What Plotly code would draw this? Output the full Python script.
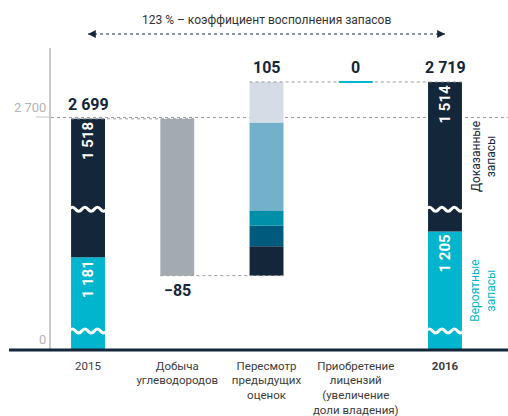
import plotly.graph_objects as go

# ---------------- data ----------------
CATEGORIES = ["2015", "Добыча<br>углеводородов", "Пересмотр<br>предыдущих<br>оценок",
              "Приобретение<br>лицензий<br>(увеличение<br>доли владения)", "<b>2016</b>"]

START_TOTAL = 2699
PRODUCTION = -85
REVISION_TOTAL = 105
ACQUISITION = 0
END_TOTAL = 2719
TOTAL_LABELS = ["2 699", "−85", "105", "0", "2 719"]

PROBABLE = [1181, 1205]
PROVED = [1518, 1514]
PROBABLE_LABELS = ["1 181", "1 205"]
PROVED_LABELS = ["1 518", "1 514"]
# part of each segment hidden by the axis break
PROBABLE_HIDDEN = [1131, 1141]
PROVED_HIDDEN = [1443, 1433]

# revision sub-components, bottom to top (estimated)
REVISION_PARTS = [16, 11, 8, 48, 22]

Y_TICK_LABELS = ["0", "2 700"]
AXIS_FLOOR = 2574          # broken axis: shown as 0
AXIS_TOP = 2737.4
AXIS_BREAKS = [2584, 2650]  # wave break positions on end bars

TITLE = "123 % – коэффициент восполнения запасов"
SIDE_LABELS = ["Вероятные<br>запасы", "Доказанные<br>запасы"]

# ---------------- styles ----------------
NAVY = "#13263a"
CYAN = "#00b5cd"
GREY = "#a3aab2"
REVISION_COLORS = [NAVY, "#005a7e", "#008fa9", "#73b1ca", "#d5dce6"]
DOT = "#9a9a9a"
BW = 0.38
FONT = "Roboto"

x_idx = list(range(len(CATEGORIES)))
lvl0 = START_TOTAL
lvl1 = lvl0 + PRODUCTION
lvl2 = lvl1 + REVISION_TOTAL
lvl3 = lvl2 + ACQUISITION
levels_top = [lvl0, lvl0, lvl2, lvl3, END_TOTAL]

fig = go.Figure()

end_x = [x_idx[0], x_idx[-1]]
prob_shown = [p - h for p, h in zip(PROBABLE, PROBABLE_HIDDEN)]
proved_shown = [p - h for p, h in zip(PROVED, PROVED_HIDDEN)]

fig.add_trace(go.Bar(
    x=end_x, y=prob_shown, base=[AXIS_FLOOR] * 2, width=BW,
    marker=dict(color=CYAN, line=dict(width=0)),
    text=["<b>%s</b>" % t for t in PROBABLE_LABELS], textposition="inside",
    insidetextanchor="end", textangle=-90,
    textfont=dict(color="white", size=15, family=FONT), hoverinfo="skip"))
fig.add_trace(go.Bar(
    x=end_x, y=proved_shown, base=[AXIS_FLOOR + s for s in prob_shown], width=BW,
    marker=dict(color=NAVY, line=dict(width=0)),
    text=["<b>%s</b>" % t for t in PROVED_LABELS], textposition="inside",
    insidetextanchor="end", textangle=-90,
    textfont=dict(color="white", size=15, family=FONT), hoverinfo="skip"))

# production
fig.add_trace(go.Bar(
    x=[x_idx[1]], y=[-PRODUCTION], base=[lvl1], width=BW,
    marker=dict(color=GREY, line=dict(width=0)), hoverinfo="skip"))

# revision parts
bases = []
acc = lvl1
for v in REVISION_PARTS:
    bases.append(acc)
    acc += v
fig.add_trace(go.Bar(
    x=[x_idx[2]] * len(REVISION_PARTS), y=REVISION_PARTS, base=bases, width=BW,
    marker=dict(color=REVISION_COLORS, line=dict(width=0)), hoverinfo="skip"))

shapes = []
# connectors
conn = [(0, 1, lvl0), (1, 2, lvl1), (2, 3, lvl2), (3, 4, lvl3)]
for a, b, lv in conn:
    shapes.append(dict(type="line", xref="x", yref="y", x0=a - BW / 2, x1=b + BW / 2,
                       y0=lv, y1=lv, line=dict(color=DOT, width=1, dash="dot"), layer="above"))
# acquisition (zero) marker
shapes.append(dict(type="line", xref="x", yref="y", x0=x_idx[3] - BW / 2, x1=x_idx[3] + BW / 2,
                   y0=lvl3, y1=lvl3, line=dict(color=CYAN, width=2), layer="above"))


# wave breaks
def wave_path(xc, y, half=BW / 2 + 0.02, n=6, amp=2.2):
    x0 = xc - half
    step = 2 * half / n
    p = "M %f,%f Q %f,%f %f,%f" % (x0, y, x0 + step / 2, y + amp, x0 + step, y)
    for k in range(2, n + 1):
        p += " T %f,%f" % (x0 + k * step, y)
    return p


for xc in end_x:
    for yb in AXIS_BREAKS:
        shapes.append(dict(type="path", xref="x", yref="y", path=wave_path(xc, yb),
                           line=dict(color="white", width=3), layer="above"))

# bottom axis line & tick stub
shapes.append(dict(type="line", xref="paper", yref="paper", x0=-42 / 457, x1=1, y0=0, y1=0,
                   line=dict(color=NAVY, width=3), layer="above"))
shapes.append(dict(type="line", xref="paper", yref="y", x0=-15 / 457, x1=0, y0=2700, y1=2700,
                   line=dict(color="#c4c4c4", width=1)))
# top arrow line
Y_ARROW = (350 - 34) / 302
shapes.append(dict(type="line", xref="x", yref="paper", x0=x_idx[0], x1=x_idx[-1],
                   y0=Y_ARROW, y1=Y_ARROW, line=dict(color=NAVY, width=1, dash="dot")))

ann = []
# totals
for i, (lab, lv) in enumerate(zip(TOTAL_LABELS, levels_top)):
    if i == 1:
        ann.append(dict(x=i, y=lvl1, xref="x", yref="y", text="<b>%s</b>" % lab, showarrow=False,
                        yanchor="top", yshift=-3, font=dict(size=16, color=NAVY, family=FONT)))
    else:
        ann.append(dict(x=i, y=lv, xref="x", yref="y", text="<b>%s</b>" % lab, showarrow=False,
                        yanchor="bottom", yshift=3, font=dict(size=16, color=NAVY, family=FONT)))
# side labels
mids = [AXIS_FLOOR + prob_shown[1] / 2, AXIS_FLOOR + prob_shown[1] + proved_shown[1] / 2]
for lab, ym, col in zip(SIDE_LABELS, mids, [CYAN, NAVY]):
    ann.append(dict(x=x_idx[-1] + 0.43, y=ym, xref="x", yref="y", text=lab, showarrow=False,
                    textangle=-90, font=dict(size=12, color=col, family=FONT)))
# title + arrowheads
ann.append(dict(x=x_idx[2], y=Y_ARROW, xref="x", yref="paper", text=TITLE,
                showarrow=False, yanchor="bottom", yshift=5,
                font=dict(size=12, color="#333333", family=FONT)))
for xa, off in [(x_idx[0], 8), (x_idx[-1], -8)]:
    ann.append(dict(x=xa, y=Y_ARROW, xref="x", yref="paper", text="", showarrow=True,
                    ax=off, ay=0, arrowhead=2, arrowsize=1.3, arrowwidth=1.2,
                    arrowcolor=NAVY, standoff=0))

fig.update_layout(
    width=508, height=416, margin=dict(l=51, r=0, t=48, b=66, autoexpand=False),
    plot_bgcolor="white", paper_bgcolor="white", showlegend=False,
    barmode="overlay", font=dict(family=FONT),
    shapes=shapes, annotations=ann,
    xaxis=dict(range=[-0.415, 4.706], tickvals=x_idx, ticktext=CATEGORIES,
               showgrid=False, zeroline=False, showline=False, ticks="",
               ticklabelstandoff=7, automargin=False,
               tickfont=dict(size=11.5, color="#3c3c3c", family=FONT)),
    yaxis=dict(range=[AXIS_FLOOR - 0.3, AXIS_TOP], tickvals=[AXIS_FLOOR, 2700],
               ticktext=Y_TICK_LABELS, showline=True, linecolor="#c9c9c9", linewidth=2,
               showgrid=True, gridcolor=DOT, griddash="dot", gridwidth=1,
               zeroline=False, ticks="", ticklabelshift=-10, automargin=False,
               tickfont=dict(size=13, color="#b4b4b4", family=FONT)),
)

fig.write_html("out.html")
